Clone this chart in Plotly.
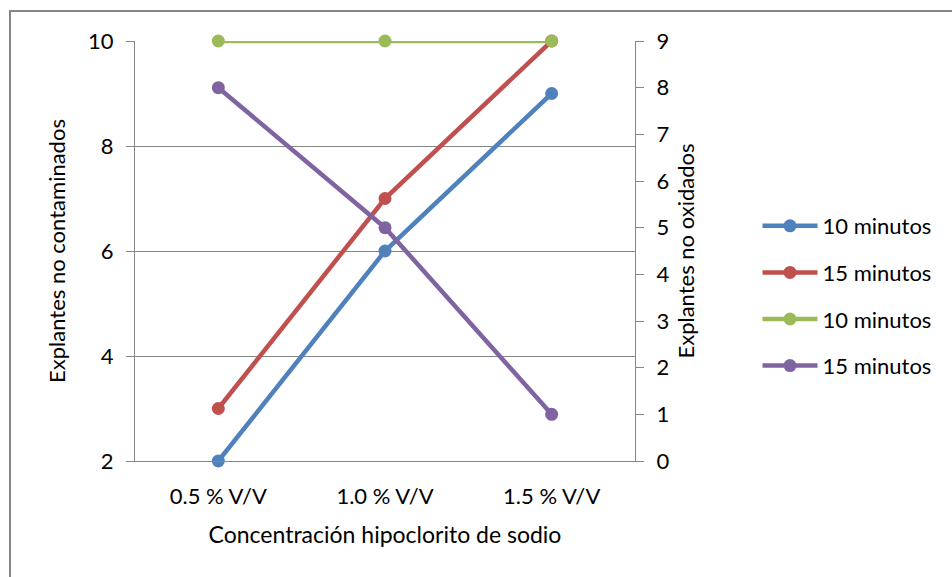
import plotly.graph_objects as go

# Concentraciones de hipoclorito de sodio (eje de categorías)
categorias = ["0.5 % V/V", "1.0 % V/V", "1.5 % V/V"]

# Explantes no contaminados (eje izquierdo)
no_contaminados_10 = [2, 6, 9]
no_contaminados_15 = [3, 7, 10]

# Explantes no oxidados (eje derecho)
no_oxidados_10 = [9, 9, 9]
no_oxidados_15 = [8, 5, 1]

FONT = "Lato"
FSIZE = 22
GRAY = "#868686"

series = [
    ("10 minutos", no_contaminados_10, "#4F81BD", "y"),
    ("15 minutos", no_contaminados_15, "#C0504D", "y"),
    ("10 minutos", no_oxidados_10, "#9BBB59", "y2"),
    ("15 minutos", no_oxidados_15, "#8064A2", "y2"),
]

fig = go.Figure()
for i, (name, vals, color, axis) in enumerate(series):
    fig.add_trace(go.Scatter(
        x=list(range(len(categorias))),
        y=vals,
        name=name,
        yaxis=axis,
        mode="lines+markers",
        line=dict(color=color, width=4.5),
        marker=dict(color=color, size=13),
        legendgroup=f"g{i}",
        cliponaxis=False,
    ))

fig.update_layout(
    width=952,
    height=577,
    margin=dict(l=135, r=317, t=41, b=116),
    paper_bgcolor="white",
    plot_bgcolor="white",
    font=dict(family=FONT, size=FSIZE, color="black"),
    xaxis=dict(
        range=[-0.5, 2.5],
        tickmode="array",
        tickvals=list(range(len(categorias))),
        ticktext=categorias,
        tickfont=dict(family=FONT, size=FSIZE),
        showgrid=False,
        zeroline=False,
        showline=True,
        linecolor=GRAY,
        linewidth=1,
        ticks="",
        ticklabelstandoff=16,
        title=dict(text="Concentración hipoclorito de sodio", standoff=18,
                   font=dict(family=FONT, size=23)),
    ),
    yaxis=dict(
        range=[2, 10],
        tickvals=[2, 4, 6, 8, 10],
        tickfont=dict(family=FONT, size=FSIZE),
        showgrid=True,
        gridcolor=GRAY,
        gridwidth=1,
        zeroline=False,
        showline=True,
        linecolor=GRAY,
        linewidth=1,
        ticks="outside",
        ticklen=8,
        tickcolor=GRAY,
        ticklabelstandoff=8,
        title=dict(text="Explantes no contaminados", standoff=16,
                   font=dict(family=FONT, size=FSIZE)),
    ),
    yaxis2=dict(
        range=[0, 9],
        tickvals=list(range(10)),
        tickfont=dict(family=FONT, size=FSIZE),
        overlaying="y",
        side="right",
        showgrid=False,
        zeroline=False,
        showline=True,
        linecolor=GRAY,
        linewidth=1,
        ticks="outside",
        ticklen=8,
        tickcolor=GRAY,
        ticklabelstandoff=8,
        title=dict(text="Explantes no oxidados", standoff=10,
                   font=dict(family=FONT, size=FSIZE)),
    ),
    legend=dict(
        x=1.245,
        y=(461 - 296) / 420,
        xanchor="left",
        yanchor="middle",
        tracegroupgap=15,
        itemwidth=55,
        font=dict(family=FONT, size=FSIZE),
        bgcolor="rgba(0,0,0,0)",
    ),
    showlegend=True,
)

# Marco exterior del gráfico
fig.add_shape(
    type="rect", xref="paper", yref="paper",
    x0=(10 - 135) / 500, x1=(980 - 135) / 500,
    y0=(461 - 620) / 420, y1=(461 - 11) / 420,
    line=dict(color=GRAY, width=2),
    fillcolor="rgba(0,0,0,0)",
    layer="below",
)

fig.write_html("out.html")
